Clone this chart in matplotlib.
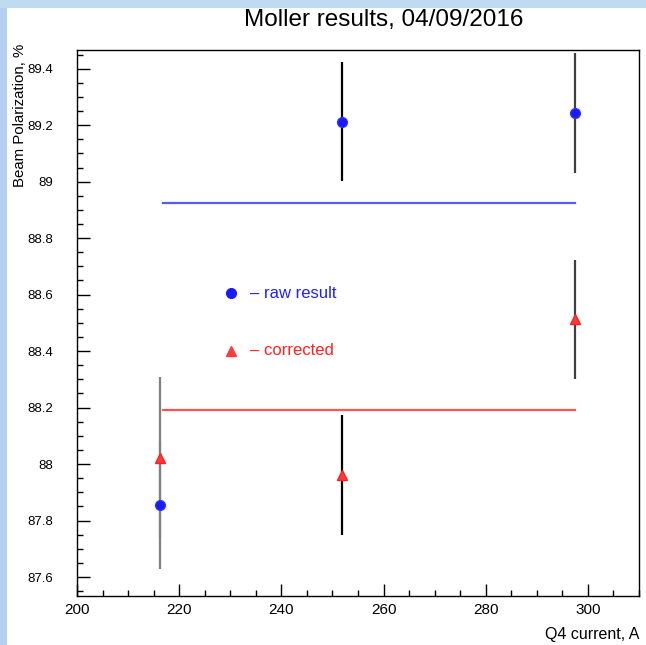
import matplotlib
matplotlib.use("Agg")
import matplotlib.pyplot as plt
from matplotlib.patches import Rectangle
from matplotlib.ticker import MultipleLocator, FuncFormatter

# Data
current = [216.2, 251.9, 297.4]
raw_pol = [87.855, 89.212, 89.242]
raw_err = [0.225, 0.21, 0.212]
cor_pol = [88.022, 87.962, 88.512]
cor_err = [0.285, 0.212, 0.21]
raw_mean = 88.925
cor_mean = 88.19
mean_x = [216.9, 297.5]
bar_colors = ["#808080", "#000000", "#404040"]

title = "Moller results, 04/09/2016"
xlabel = "Q4 current, A"
ylabel = "Beam Polarization, %"

plt.rcParams['font.family'] = ['Liberation Sans', 'DejaVu Sans']

W, H = 646, 645
fig = plt.figure(figsize=(W / 100, H / 100), dpi=100)
fig.patch.set_facecolor("white")

# light blue frame strips (left & top)
fig.patches.append(Rectangle((0, 0), 7 / W, 1, transform=fig.transFigure,
                             facecolor="#b3d1ee", edgecolor="none", zorder=0))
fig.patches.append(Rectangle((0, 1 - 8 / H), 1, 8 / H, transform=fig.transFigure,
                             facecolor="#c0daf0", edgecolor="none", zorder=0))

ax = fig.add_axes([77 / W, 1 - 596 / H, 562 / W, 546 / H])
ax.set_xlim(200, 310)
ax.set_ylim(87.533, 89.466)

for i in range(3):
    ax.errorbar(current[i], raw_pol[i], yerr=raw_err[i], fmt="none",
                ecolor=bar_colors[i], elinewidth=1.6, capsize=0, zorder=2)
    ax.errorbar(current[i], cor_pol[i], yerr=cor_err[i], fmt="none",
                ecolor=bar_colors[i], elinewidth=1.6, capsize=0, zorder=2)

ax.plot(mean_x, [raw_mean, raw_mean], color="#5a5aff", lw=1.6, zorder=1)
ax.plot(mean_x, [cor_mean, cor_mean], color="#ff5555", lw=1.6, zorder=1)

ax.plot(current, raw_pol, "o", color="#1a1aff", markersize=7,
        markeredgecolor="#3030ff", zorder=3)
ax.plot(current, cor_pol, "^", color="#ff3a3a", markersize=7,
        markeredgecolor="#ff2020", zorder=3)

# legend drawn as annotations
ax.plot([230.1], [88.604], "o", color="#1a1aff", markersize=7, zorder=3)
ax.text(233.9, 88.604, "\u2013 raw result", color="#2020ff", fontsize=12,
        va="center", ha="left")
ax.plot([230.1], [88.402], "^", color="#ff3a3a", markersize=7, zorder=3)
ax.text(233.9, 88.402, "\u2013 corrected", color="#ff2020", fontsize=12,
        va="center", ha="left")

ax.xaxis.set_major_locator(MultipleLocator(20))
ax.xaxis.set_minor_locator(MultipleLocator(5))
ax.yaxis.set_major_locator(MultipleLocator(0.2))
ax.yaxis.set_minor_locator(MultipleLocator(0.05))
ax.tick_params(which="both", direction="in", top=False, right=False,
               colors="black")
ax.tick_params(which="major", length=9, width=1)
ax.tick_params(which="minor", length=4.5, width=1)
ax.tick_params(axis="y", which="major", pad=17, labelsize=9.5)
ax.tick_params(axis="x", which="major", pad=5, labelsize=11)
ax.yaxis.set_major_formatter(FuncFormatter(
    lambda v, p: ("%.1f" % v).rstrip("0").rstrip(".")))
for s in ax.spines.values():
    s.set_linewidth(1)
    s.set_color("black")

fig.text(384 / W, 1 - 20 / H, title, fontsize=17.5, ha="center", va="center")
fig.text(639 / W, 1 - 634 / H, xlabel, fontsize=11.5, ha="right", va="center")
fig.text(20 / W, 1 - 44 / H, ylabel, fontsize=10.8, ha="center", va="top",
         rotation=90)

fig.savefig("out.png", dpi=100)
